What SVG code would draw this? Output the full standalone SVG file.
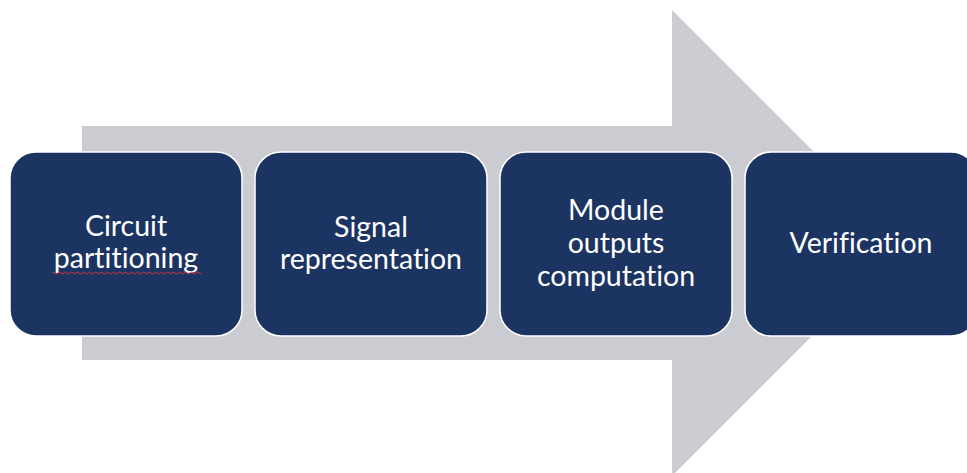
<svg xmlns="http://www.w3.org/2000/svg" width="967" height="473" viewBox="0 0 967 473">
  <style>
    .step rect { fill: #1c3461; stroke: #ffffff; stroke-width: 1.5; }
    .step text { fill: #ffffff; font-family: Lato, "Open Sans", "Liberation Sans", sans-serif; font-size: 28.5px; text-anchor: middle; font-variant-ligatures: none; }
  </style>
  <rect width="967" height="473" fill="#ffffff"/>
  <!-- background process arrow -->
  <g id="connectors">
    <polygon points="82,126 672,126 672,10 905,243 672,476 672,360 82,360" fill="#cbccd1"/>
  </g>
  <g id="step1" class="step">
    <rect x="10" y="152" width="232" height="184" rx="26"/>
    <text x="126" y="236">Circuit</text>
    <text x="126" y="268">partitioning</text>
    <path d="M52,273 q1.5,-2 3,0 t3,0 t3,0 t3,0 t3,0 t3,0 t3,0 t3,0 t3,0 t3,0 t3,0 t3,0 t3,0 t3,0 t3,0 t3,0 t3,0 t3,0 t3,0 t3,0 t3,0 t3,0 t3,0 t3,0 t3,0 t3,0 t3,0 t3,0 t3,0 t3,0 t3,0 t3,0 t3,0 t3,0 t3,0 t3,0 t3,0 t3,0 t3,0 t3,0 t3,0 t3,0 t3,0 t3,0 t3,0 t3,0 t3,0 t3,0 t3,0 t3,0" fill="none" stroke="#d9363e" stroke-width="1"/>
  </g>
  <g id="step2" class="step">
    <rect x="255" y="152" width="232" height="184" rx="26"/>
    <text x="371" y="237">Signal</text>
    <text x="371" y="269">representation</text>
  </g>
  <g id="step3" class="step">
    <rect x="500" y="152" width="232" height="184" rx="26"/>
    <text x="616" y="220">Module</text>
    <text x="616" y="253">outputs</text>
    <text x="616" y="286">computation</text>
  </g>
  <g id="step4" class="step">
    <rect x="745" y="152" width="232" height="184" rx="26"/>
    <text x="861" y="253">Verification</text>
  </g>
</svg>
